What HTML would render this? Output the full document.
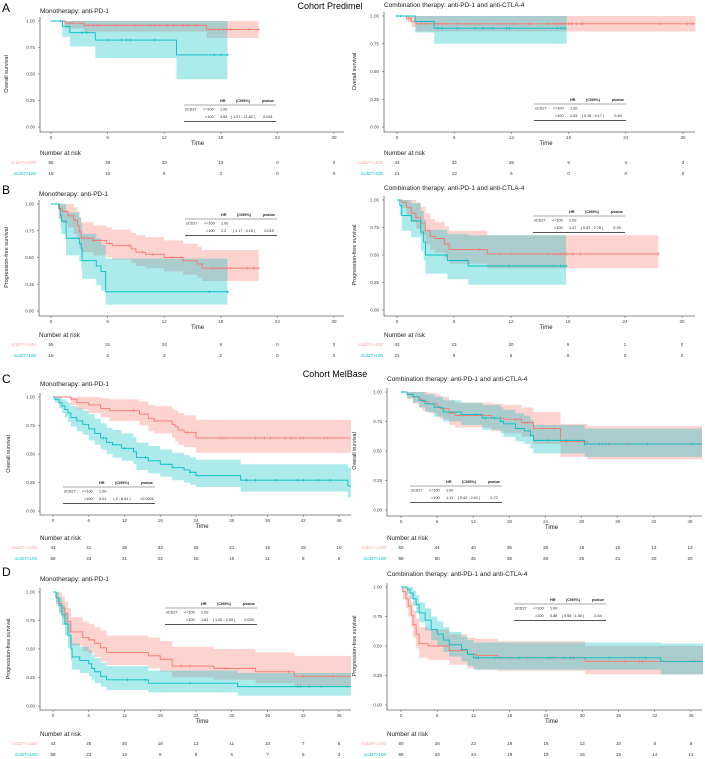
<!DOCTYPE html>
<html><head><meta charset="utf-8">
<style>
html,body{margin:0;padding:0;background:#fff;}
svg{display:block;font-family:"Liberation Sans",sans-serif;}
</style></head>
<body>
<svg id="fig" width="705" height="759" viewBox="0 0 705 759" xmlns="http://www.w3.org/2000/svg">
<text x="2" y="12" font-size="12">A</text>
<text x="2" y="194" font-size="12">B</text>
<text x="2" y="383" font-size="12">C</text>
<text x="2" y="576" font-size="12">D</text>
<text x="330" y="9" font-size="9" text-anchor="middle">Cohort Predimel</text>
<text x="335" y="377" font-size="9" text-anchor="middle">Cohort MelBase</text>
</svg>
<script>
// ---------- Data ----------
const aL_red_t=[0,1.5,3.5,16.5];const aL_red_s=[1,0.98,0.96,0.92];const aL_red_lo=[1,0.93,0.9,0.84];const aL_red_hi=[1,1,1,1];
const aL_red_c=[1,2,2.3,4,4.5,5,7,9,10.5,11,11.5,12.3,13,14,14.5,15.3,16.8,17,17.3,17.8,18.3,18.6,19,21,22];
const aL_teal_t=[0,1.2,2,4.7,13.3];const aL_teal_s=[1,0.95,0.89,0.82,0.68];const aL_teal_lo=[1,0.85,0.76,0.65,0.45];const aL_teal_hi=[1,1,1,1,1];
const aL_teal_c=[3.3,3.8,6,7.5,8,8.4,11,17.3,18,18.7];
const aR_red_t=[0,1,1.5,2];const aR_red_s=[1,0.98,0.95,0.93];const aR_red_lo=[1,0.95,0.9,0.86];const aR_red_hi=[1,1,1,1];
const aR_red_c=[1.2,2.5,3,4.3,4.8,5.2,6.3,7.2,7.5,8.7,10.6,11.5,12.2,13.8,14,15.8,16.5,16.8,17,17.3,17.6,18,18.3,18.8,19.3,19.5,27.5,30.5,31];
const aR_teal_t=[0,1.9,3.9];const aR_teal_s=[1,0.95,0.89];const aR_teal_lo=[1,0.85,0.75];const aR_teal_hi=[1,1,1];
const aR_teal_c=[0,0.4,4.3,4.7,6.3,8.2,9,10,11.5,11.8,16.8,17.3,17.6];
const bL_red_t=[0,0.8,1.2,1.8,2.4,2.8,3,3.2,4.5,5.9,6.5,8.5,9,10,12,14,15.5,16];
const bL_red_s=[1,0.96,0.93,0.89,0.85,0.8,0.74,0.68,0.66,0.63,0.61,0.58,0.55,0.53,0.5,0.47,0.44,0.4];
const bL_red_lo=[1,0.86,0.82,0.78,0.72,0.67,0.6,0.55,0.52,0.5,0.48,0.45,0.42,0.4,0.37,0.34,0.31,0.28];
const bL_red_hi=[1,1,1,1,0.97,0.93,0.88,0.83,0.8,0.78,0.76,0.73,0.71,0.69,0.66,0.63,0.6,0.57];
const bL_red_c=[0.9,1.6,2.6,3.5,4.5,6.2,8.3,9.7,10.8,12.3,12.8,13.8,17,17.3,17.8,18.2,18.6,19,20.8,21.5,22];
const bL_teal_t=[0,0.9,1,1.1,1.6,3,3.2,3.3,4.8,5.3,5.8];
const bL_teal_s=[1,0.95,0.89,0.84,0.68,0.63,0.58,0.47,0.42,0.37,0.18];
const bL_teal_lo=[1,0.86,0.78,0.72,0.52,0.46,0.4,0.3,0.24,0.19,0.06];
const bL_teal_hi=[1,1,1,1,0.92,0.87,0.82,0.72,0.68,0.62,0.49];
const bL_teal_c=[16.8,18.7];
const bR_red_t=[0,0.5,1,1.5,2,2.5,3,3.5,4,5,5.5,9.5];
const bR_red_s=[1,0.98,0.93,0.88,0.84,0.79,0.72,0.67,0.65,0.6,0.55,0.51];
const bR_red_lo=[1,0.93,0.86,0.8,0.74,0.68,0.6,0.55,0.52,0.47,0.42,0.38];
const bR_red_hi=[1,1,1,1,0.98,0.94,0.88,0.83,0.8,0.76,0.72,0.68];
const bR_red_c=[8.7,10.8,12.1,15.8,16.5,16.8,17,17.2,17.5,17.8,18.5,19.3,27.5];
const bR_teal_t=[0,0.3,0.5,1.5,2.5,2.8,3,5.3,7.5];
const bR_teal_s=[1,0.95,0.86,0.81,0.71,0.62,0.5,0.45,0.4];
const bR_teal_lo=[1,0.86,0.72,0.66,0.54,0.45,0.33,0.28,0.23];
const bR_teal_hi=[1,1,1,0.97,0.9,0.82,0.73,0.69,0.68];
const bR_teal_c=[11.8,16.5,17.2,17.5,17.8];
const cL_red_t=[0,3,4,6,8,9.5,14.5,16,17,20,20.5,21,22,24];
const cL_red_s=[1,0.98,0.95,0.93,0.9,0.88,0.85,0.81,0.79,0.76,0.74,0.71,0.69,0.64];
const cL_red_lo=[1,0.93,0.89,0.86,0.82,0.79,0.75,0.7,0.68,0.64,0.61,0.58,0.56,0.51];
const cL_red_hi=[1,1,1,1,0.99,0.98,0.96,0.93,0.92,0.89,0.88,0.86,0.84,0.8];
const cL_red_c=[13.5,22.5,28,28.5,29,34,35.5,36.5,39,40,41.5,42,45.5,46];
const cL_teal_t=[0,0.3,1,1.5,2,2.5,3,4,5,6,7,8,9,10,11.5,13.5,14,16,18,20,22,23,24,31.5,49.5];
const cL_teal_s=[1,0.98,0.95,0.92,0.89,0.86,0.82,0.79,0.76,0.72,0.68,0.64,0.6,0.58,0.55,0.52,0.47,0.44,0.41,0.38,0.36,0.34,0.31,0.27,0.22];
const cL_teal_lo=[1,0.95,0.9,0.86,0.82,0.78,0.74,0.7,0.67,0.62,0.58,0.54,0.5,0.47,0.44,0.41,0.36,0.33,0.3,0.27,0.25,0.23,0.21,0.17,0.12];
const cL_teal_hi=[1,1,1,0.98,0.97,0.95,0.92,0.9,0.88,0.85,0.81,0.77,0.73,0.71,0.68,0.65,0.6,0.57,0.54,0.51,0.49,0.47,0.45,0.41,0.38];
const cL_teal_c=[8.5,12,15.5,23,32.5,34,37.5,41,42,44.5,46.5];
const cR_red_t=[0,1,2,3,3.5,4.5,6,6.5,8,9,15,17,20,22,26.5,31];
const cR_red_s=[1,0.98,0.96,0.94,0.92,0.9,0.88,0.86,0.82,0.8,0.78,0.77,0.74,0.69,0.58,0.56];
const cR_red_lo=[1,0.94,0.9,0.87,0.84,0.82,0.79,0.77,0.72,0.7,0.67,0.65,0.62,0.56,0.45,0.43];
const cR_red_hi=[1,1,1,1,1,0.99,0.98,0.96,0.93,0.91,0.9,0.89,0.87,0.83,0.73,0.71];
const cR_red_c=[16.5,19,20.5,21,23.5,25.5,27.5,29.5,33.5,34.5,37.5,38,48];
const cR_teal_t=[0,1,2,3,4,5.5,7,10,13.5,16.5,17,19,20.5,21.5,22,30.5];
const cR_teal_s=[1,0.98,0.96,0.93,0.9,0.87,0.83,0.81,0.78,0.75,0.73,0.69,0.67,0.63,0.59,0.56];
const cR_teal_lo=[1,0.95,0.91,0.87,0.83,0.79,0.75,0.72,0.68,0.65,0.62,0.58,0.56,0.52,0.48,0.45];
const cR_teal_hi=[1,1,1,1,0.98,0.96,0.93,0.91,0.89,0.87,0.85,0.82,0.8,0.76,0.72,0.69];
const cR_teal_c=[0.3,12.5,14,15.5,24.5,27.5,30.5,33,34,41,48.5];
const dL_red_t=[0,0.5,1,1.5,2,2.5,3,5,6,7,8,9,16,18,20,27,34,40.5];
const dL_red_s=[1,0.95,0.9,0.86,0.81,0.74,0.65,0.6,0.58,0.55,0.51,0.47,0.44,0.41,0.35,0.33,0.3,0.26];
const dL_red_lo=[1,0.88,0.82,0.77,0.71,0.63,0.53,0.48,0.46,0.43,0.39,0.36,0.33,0.3,0.25,0.23,0.2,0.17];
const dL_red_hi=[1,1,1,0.96,0.92,0.86,0.78,0.74,0.72,0.69,0.66,0.62,0.6,0.57,0.52,0.5,0.47,0.44];
const dL_red_c=[21.5,23,29,39.5,42,47];
const dL_teal_t=[0,0.5,1,1.5,2,2.5,3,3.2,4.5,6,6.5,7,8,9,16,31];
const dL_teal_s=[1,0.95,0.88,0.8,0.72,0.62,0.5,0.43,0.4,0.37,0.33,0.3,0.26,0.23,0.2,0.17];
const dL_teal_lo=[1,0.9,0.81,0.71,0.62,0.51,0.39,0.32,0.29,0.26,0.23,0.2,0.17,0.14,0.12,0.09];
const dL_teal_hi=[1,1,0.95,0.89,0.82,0.73,0.61,0.55,0.52,0.49,0.45,0.42,0.38,0.35,0.31,0.29];
const dL_teal_c=[12.5,15.5,23,41,41.5,43,45];
const dR_red_t=[0,0.3,0.8,1.2,1.7,2,2.5,3,4.5,8,11,12.5,16,30.5];
const dR_red_s=[1,0.96,0.9,0.84,0.76,0.68,0.6,0.52,0.5,0.46,0.43,0.42,0.4,0.37];
const dR_red_lo=[1,0.9,0.82,0.75,0.66,0.57,0.48,0.4,0.38,0.34,0.31,0.3,0.29,0.26];
const dR_red_hi=[1,1,0.98,0.93,0.87,0.8,0.73,0.66,0.64,0.6,0.57,0.56,0.54,0.5];
const dR_red_c=[16.5,18,21,25,25.5,28.5,37,39.5,40,48.5];
const dR_teal_t=[0,1,1.5,2,2.5,3,4,5,6,7,8,10,11,12,43];
const dR_teal_s=[1,0.98,0.95,0.9,0.85,0.78,0.72,0.64,0.6,0.55,0.51,0.47,0.43,0.4,0.37];
const dR_teal_lo=[1,0.94,0.9,0.84,0.78,0.7,0.63,0.55,0.5,0.45,0.41,0.37,0.33,0.3,0.26];
const dR_teal_hi=[1,1,1,0.97,0.93,0.87,0.82,0.75,0.71,0.66,0.62,0.58,0.55,0.53,0.52];
const dR_teal_c=[12.5,12.8,15.5,19.5,24.5,27,28,34.5,40.5];

const aL_risk_red=[55,39,33,13,0,0];const aL_risk_teal=[19,10,6,3,0,0];
const aR_risk_red=[43,32,26,9,4,3];const aR_risk_teal=[21,13,6,0,0,0];
const bL_risk_red=[55,31,24,9,0,0];const bL_risk_teal=[19,3,3,2,0,0];
const bR_risk_red=[43,23,20,6,1,0];const bR_risk_teal=[21,9,6,0,0,0];
const cL_risk_red=[43,41,38,33,26,21,19,15,10];const cL_risk_teal=[59,43,31,22,16,15,11,8,6];
const cR_risk_red=[50,44,40,36,28,18,15,13,13];const cR_risk_teal=[58,50,45,38,28,25,21,20,20];
const dL_risk_red=[43,25,20,18,13,11,10,7,5];const dL_risk_teal=[59,23,13,9,8,6,7,5,3];
const dR_risk_red=[50,26,22,19,16,12,10,8,8];const dR_risk_teal=[58,33,24,19,19,16,15,14,13];

const xTicks30=[0,6,12,18,24,30];
const xTicks48=[0,6,12,18,24,30,36,42,48];
const yTicks=[0,0.25,0.5,0.75,1];
const yTickLabels=["0.00","0.25","0.50","0.75","1.00"];

const hrA_L=["4.83","( 1.07 ; 21.82 )","0.041"];
const hrA_R=["1.53","( 0.26 ; 9.17 )","0.64"];
const hrB_L=["2.2","( 1.17 ; 4.15 )","0.015"];
const hrB_R=["1.37","( 0.67 ; 2.78 )","0.39"];
const hrC_L=["3.01","( 2 ; 6.51 )","<0.0001"];
const hrC_R=["1.11","( 0.62 ; 2.01 )","0.72"];
const hrD_L=["1.61","( 1.02 ; 2.54 )","0.039"];
const hrD_R=["0.88","( 0.55 ; 1.45 )","0.64"];

const RED="#F8766D", TEAL="#00BFC4";
const NS="http://www.w3.org/2000/svg";
const svg=document.getElementById('fig');
function el(tag,attrs,parent,txt){const e=document.createElementNS(NS,tag);for(const k in attrs)e.setAttribute(k,attrs[k]);if(txt!==undefined)e.textContent=txt;(parent||svg).appendChild(e);return e;}

function panel(p){
  const g=el('g',{});
  
  
  const X=t=>p.x0+(t/p.tmax)*(p.x1-p.x0);
  const Y=s=>p.y0+s*(p.y1-p.y0);
  const ti=el('text',{x:p.ax,y:p.titleY,'font-size':6.5,fill:'#222'},g,p.title);
  
  
  const yl=el('text',{x:0,y:0,'font-size':5.5,fill:'#222','text-anchor':'middle',transform:`translate(${p.ylabX},${(p.y0+p.y1)/2}) rotate(-90)`},g,p.ylab);
  
  
  function band(t,lo,hi,end,col){
    let up=`M${X(t[0])},${Y(hi[0])}`;
    for(let i=1;i<t.length;i++)up+=`H${X(t[i])}V${Y(hi[i])}`;
    up+=`H${X(end)}V${Y(lo[lo.length-1])}`;
    for(let i=t.length-1;i>=1;i--)up+=`H${X(t[i])}V${Y(lo[i-1])}`;
    up+=`H${X(t[0])}Z`;
    const b=el('path',{d:up,fill:col,'fill-opacity':0.32,stroke:'none'},g);
    
    
  }
  function line(t,s,cens,end,col,nm){
    let d=`M${X(t[0])},${Y(s[0])}`;
    for(let i=1;i<t.length;i++)d+=`H${X(t[i])}V${Y(s[i])}`;
    d+=`H${X(end)}`;
    const l=el('path',{d:d,fill:'none',stroke:col,'stroke-width':0.9},g);
    
    
    cens.forEach(c=>{let v=s[0];for(let i=0;i<t.length;i++)if(t[i]<=c)v=s[i];
      const cx=X(c),cy=Y(v);
      const m=el('path',{d:`M${cx-1.3},${cy}H${cx+1.3}M${cx},${cy-1.3}V${cy+1.3}`,stroke:col,'stroke-width':0.7},g);
      
      });
  }
  band(p.red.t,p.red.lo,p.red.hi,p.red.end,RED);
  band(p.teal.t,p.teal.lo,p.teal.hi,p.teal.end,TEAL);
  line(p.red.t,p.red.s,p.red.c,p.red.end,RED,'low-scd27');
  line(p.teal.t,p.teal.s,p.teal.c,p.teal.end,TEAL,'high-scd27');
  const axg=el('path',{d:`M${p.ax},${p.y1-4}V${p.axY}H${p.xr}`,fill:'none',stroke:'#666','stroke-width':0.8},g);
  
  
  yTicks.forEach((v,i)=>{
    const t=el('text',{x:p.ax-5,y:Y(v)+1.7,'font-size':4.5,fill:'#444','text-anchor':'end'},g,yTickLabels[i]);
    
    
    el('line',{x1:p.ax-2,x2:p.ax,y1:Y(v),y2:Y(v),stroke:'#666','stroke-width':0.6},g);
  });
  p.ticks.forEach((v,i)=>{
    const t=el('text',{x:X(v),y:p.axY+7,'font-size':4.5,fill:'#444','text-anchor':'middle'},g,String(v));
    
    
    el('line',{x1:X(v),x2:X(v),y1:p.axY,y2:p.axY+2,stroke:'#666','stroke-width':0.6},g);
    const r1=el('text',{x:X(v),y:p.rowY[0],'font-size':4.5,fill:'#333','text-anchor':'middle'},g,String(p.riskRed[i]));
    
    
    const r2=el('text',{x:X(v),y:p.rowY[1],'font-size':4.5,fill:'#333','text-anchor':'middle'},g,String(p.riskTeal[i]));
    
    
  });
  const xt=el('text',{x:(p.x0+p.xr)/2,y:p.axY+13,'font-size':6,fill:'#222','text-anchor':'middle'},g,'Time');
  
  
  const nr=el('text',{x:p.ax,y:p.rowY[0]-9,'font-size':6.3,fill:'#222'},g,'Number at risk');
  
  
  const l1=el('text',{x:p.labX,y:p.rowY[0],'font-size':4.5,fill:RED,'text-anchor':'end','fill-opacity':0.7},g,'scd27<=100');
  
  
  const l2=el('text',{x:p.labX,y:p.rowY[1],'font-size':4.5,fill:TEAL,'text-anchor':'end'},g,'scd27>100');
  
  
  const tx=p.hr[0], ty=p.hr[1], fs=3.8;
  const tg=el('g',{'font-size':fs,fill:'#222'},g);
  
  
  el('text',{x:tx+36,y:ty,'font-weight':'bold'},tg,'HR');
  el('text',{x:tx+59,y:ty,'font-weight':'bold','text-anchor':'middle'},tg,'(CI95%)');
  el('text',{x:tx+84,y:ty,'font-weight':'bold','text-anchor':'middle'},tg,'pvalue');
  el('line',{x1:tx,x2:tx+92,y1:ty+3,y2:ty+3,stroke:'#555','stroke-width':0.5},tg);
  el('text',{x:tx+1,y:ty+8.5},tg,'sCD27');
  el('text',{x:tx+19,y:ty+8.5},tg,'<=100');
  el('text',{x:tx+36,y:ty+8.5},tg,'1.00');
  el('text',{x:tx+21,y:ty+16},tg,'>100');
  el('text',{x:tx+36,y:ty+16},tg,p.hrv[0]);
  el('text',{x:tx+59,y:ty+16,'text-anchor':'middle'},tg,p.hrv[1]);
  el('text',{x:tx+84,y:ty+16,'text-anchor':'middle'},tg,p.hrv[2]);
  el('line',{x1:tx,x2:tx+92,y1:ty+19.5,y2:ty+19.5,stroke:'#555','stroke-width':0.9},tg);
}
const MONO="Monotherapy: anti-PD-1", COMBO="Combination therapy: anti-PD-1 and anti-CTLA-4";
const OS="Overall survival", PFS="Progression-free survival";
panel({name:'panel-a-mono',title:MONO,ylab:OS,ax:40,titleY:13,ylabX:8,x0:51,x1:334,xr:344,tmax:30,y1:21,y0:127,axY:132,ticks:xTicks30,rowY:[164,175],labX:36,
 red:{t:aL_red_t,s:aL_red_s,lo:aL_red_lo,hi:aL_red_hi,c:aL_red_c,end:22},teal:{t:aL_teal_t,s:aL_teal_s,lo:aL_teal_lo,hi:aL_teal_hi,c:aL_teal_c,end:18.7},
 riskRed:aL_risk_red,riskTeal:aL_risk_teal,hr:[184,102],hrv:hrA_L});
panel({name:'panel-a-combo',title:COMBO,ylab:OS,ax:384,titleY:7,ylabX:356,x0:397,x1:683,xr:695,tmax:30,y1:16,y0:127,axY:132,ticks:xTicks30,rowY:[164,175],labX:383,
 red:{t:aR_red_t,s:aR_red_s,lo:aR_red_lo,hi:aR_red_hi,c:aR_red_c,end:31.3},teal:{t:aR_teal_t,s:aR_teal_s,lo:aR_teal_lo,hi:aR_teal_hi,c:aR_teal_c,end:17.8},
 riskRed:aR_risk_red,riskTeal:aR_risk_teal,hr:[534,101],hrv:hrA_R});
panel({name:'panel-b-mono',title:MONO,ylab:PFS,ax:39,titleY:196,ylabX:8,x0:51,x1:334,xr:344,tmax:30,y1:204,y0:311,axY:316,ticks:xTicks30,rowY:[346,357],labX:36,
 red:{t:bL_red_t,s:bL_red_s,lo:bL_red_lo,hi:bL_red_hi,c:bL_red_c,end:22},teal:{t:bL_teal_t,s:bL_teal_s,lo:bL_teal_lo,hi:bL_teal_hi,c:bL_teal_c,end:18.7},
 riskRed:bL_risk_red,riskTeal:bL_risk_teal,hr:[185,216],hrv:hrB_L});
panel({name:'panel-b-combo',title:COMBO,ylab:PFS,ax:384,titleY:190,ylabX:356,x0:397,x1:682,xr:695,tmax:30,y1:200,y0:310,axY:316,ticks:xTicks30,rowY:[346,357],labX:383,
 red:{t:bR_red_t,s:bR_red_s,lo:bR_red_lo,hi:bR_red_hi,c:bR_red_c,end:27.5},teal:{t:bR_teal_t,s:bR_teal_s,lo:bR_teal_lo,hi:bR_teal_hi,c:bR_teal_c,end:17.8},
 riskRed:bR_risk_red,riskTeal:bR_risk_teal,hr:[533,213],hrv:hrB_R});
panel({name:'panel-c-mono',title:MONO,ylab:OS,ax:40,titleY:386,ylabX:10,x0:53,x1:339,xr:351,tmax:48,y1:397,y0:511,axY:515,ticks:xTicks48,rowY:[549,560],labX:37,
 red:{t:cL_red_t,s:cL_red_s,lo:cL_red_lo,hi:cL_red_hi,c:cL_red_c,end:50},teal:{t:cL_teal_t,s:cL_teal_s,lo:cL_teal_lo,hi:cL_teal_hi,c:cL_teal_c,end:50},
 riskRed:cL_risk_red,riskTeal:cL_risk_teal,hr:[63,484],hrv:hrC_L});
panel({name:'panel-c-combo',title:COMBO,ylab:OS,ax:387,titleY:381,ylabX:356,x0:401,x1:690,xr:702,tmax:48,y1:392,y0:510,axY:516,ticks:xTicks48,rowY:[549,560],labX:386,
 red:{t:cR_red_t,s:cR_red_s,lo:cR_red_lo,hi:cR_red_hi,c:cR_red_c,end:50},teal:{t:cR_teal_t,s:cR_teal_s,lo:cR_teal_lo,hi:cR_teal_hi,c:cR_teal_c,end:50},
 riskRed:cR_risk_red,riskTeal:cR_risk_teal,hr:[410,483],hrv:hrC_R});
panel({name:'panel-d-mono',title:MONO,ylab:PFS,ax:40,titleY:581,ylabX:10,x0:53,x1:339,xr:351,tmax:48,y1:592,y0:706,axY:710,ticks:xTicks48,rowY:[745,756],labX:37,
 red:{t:dL_red_t,s:dL_red_s,lo:dL_red_lo,hi:dL_red_hi,c:dL_red_c,end:50},teal:{t:dL_teal_t,s:dL_teal_s,lo:dL_teal_lo,hi:dL_teal_hi,c:dL_teal_c,end:50},
 riskRed:dL_risk_red,riskTeal:dL_risk_teal,hr:[165,605],hrv:hrD_L});
panel({name:'panel-d-combo',title:COMBO,ylab:PFS,ax:387,titleY:576,ylabX:356,x0:401,x1:691,xr:702,tmax:48,y1:587,y0:705,axY:710,ticks:xTicks48,rowY:[745,756],labX:386,
 red:{t:dR_red_t,s:dR_red_s,lo:dR_red_lo,hi:dR_red_hi,c:dR_red_c,end:50},teal:{t:dR_teal_t,s:dR_teal_s,lo:dR_teal_lo,hi:dR_teal_hi,c:dR_teal_c,end:50},
 riskRed:dR_risk_red,riskTeal:dR_risk_teal,hr:[514,601],hrv:hrD_R});
</script>
</body></html>
